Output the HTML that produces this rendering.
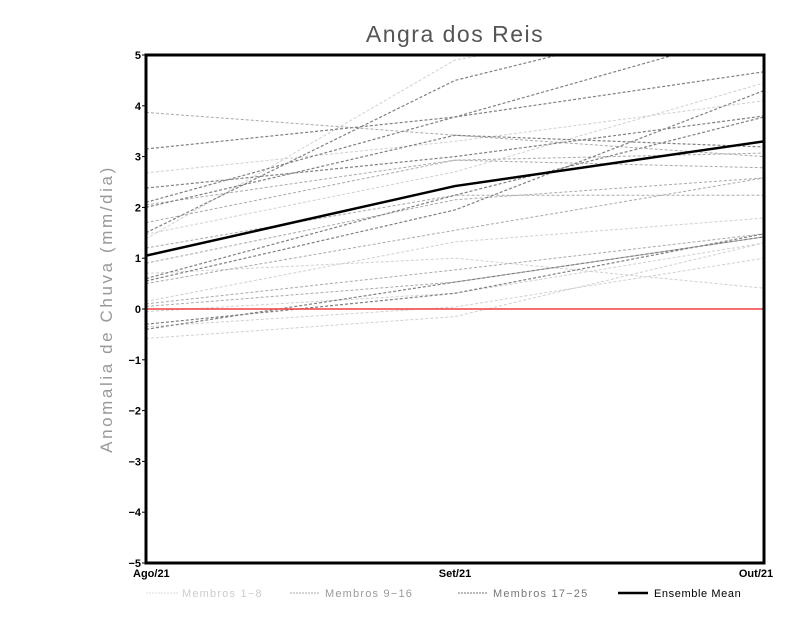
<!DOCTYPE html>
<html><head><meta charset="utf-8"><style>
body{margin:0;background:#fff;}
svg{display:block;font-family:"Liberation Sans",sans-serif;}
</style></head><body>
<svg id="chart" width="800" height="618">
<text x="455" y="42" text-anchor="middle" font-size="23" letter-spacing="1.5" fill="#555">Angra dos Reis</text>
<text transform="translate(112,309) rotate(-90)" text-anchor="middle" font-size="17" letter-spacing="2.6" fill="#999">Anomalia de Chuva (mm/dia)</text>
<g id="plot"></g>
<g id="legend">
<line x1="146" y1="593" x2="178" y2="593" stroke="#ddd" stroke-dasharray="2,1"/>
<text x="182" y="597" font-size="11" letter-spacing="1.2" fill="#ccc">Membros 1−8</text>
<line x1="290" y1="593" x2="320" y2="593" stroke="#aaa" stroke-dasharray="2,1"/>
<text x="325" y="597" font-size="11" letter-spacing="1.2" fill="#999">Membros 9−16</text>
<line x1="458" y1="593" x2="488" y2="593" stroke="#777" stroke-dasharray="2,1"/>
<text x="493" y="597" font-size="11" letter-spacing="1.2" fill="#777">Membros 17−25</text>
<line x1="618" y1="593" x2="648" y2="593" stroke="#000" stroke-width="2.5"/>
<text x="654" y="597" font-size="11" letter-spacing="0.6" fill="#000">Ensemble Mean</text>
</g>
</svg>
<script>
const categories=["Ago/21","Set/21","Out/21"];
const yTicks=[-5,-4,-3,-2,-1,0,1,2,3,4,5];
const groupA=[[2.68,3.3,4.1],[1.38,4.9,6],[0.7,1.0,0.41],[0.15,1.32,1.79],[-0.05,0.31,1.3],[-0.35,0.04,1.0],[-0.58,-0.15,1.3],[1.47,2.7,4.45]];
const groupB=[[3.87,3.42,3.0],[2.05,2.93,3.07],[1.7,2.93,2.78],[1.2,2.24,2.24],[0.9,2.15,2.58],[0.5,1.55,2.58],[0.1,0.77,1.48],[0.05,0.53,1.42]];
const groupC=[[3.15,3.78,4.67],[2.38,3.0,3.8],[2.1,3.78,5.5],[2.0,3.42,3.19],[1.5,4.5,6],[0.6,2.24,3.78],[0.55,1.95,4.3],[-0.3,0.31,1.48],[-0.4,0.53,1.42]];
const meanVals=[1.05,2.42,3.3];
const X0=146,X1=764,Y0=563,Y1=55;
const xs=i=>X0+(X1-X0)*i/(categories.length-1);
const ys=v=>Y0-(v+5)/10*(Y0-Y1);
const NS="http://www.w3.org/2000/svg";
const g=document.getElementById('plot');
const clip=document.createElementNS(NS,'clipPath');clip.id='c';
const cr=document.createElementNS(NS,'rect');
cr.setAttribute('x',X0);cr.setAttribute('y',Y1);cr.setAttribute('width',X1-X0);cr.setAttribute('height',Y0-Y1);
clip.appendChild(cr);g.appendChild(clip);
function line(vals,color,w,dash,name){
 const p=document.createElementNS(NS,'polyline');
 p.setAttribute('points',vals.map((v,i)=>xs(i)+','+ys(v)).join(' '));
 p.setAttribute('fill','none');p.setAttribute('stroke',color);p.setAttribute('stroke-width',w);
 if(dash)p.setAttribute('stroke-dasharray',dash);
 p.setAttribute('clip-path','url(#c)');
 
 
 g.appendChild(p);
}
groupA.forEach(v=>line(v,'#d0d0d0',1,'3,2','member-line-1-8'));
groupB.forEach(v=>line(v,'#aaaaaa',1,'3,2','member-line-9-16'));
groupC.forEach(v=>line(v,'#808080',1.2,'3,2','member-line-17-25'));
const z=document.createElementNS(NS,'line');
z.setAttribute('x1',X0);z.setAttribute('x2',X1);z.setAttribute('y1',ys(0));z.setAttribute('y2',ys(0));
z.setAttribute('stroke','#f04040');z.setAttribute('stroke-width',1.5);


g.appendChild(z);
line(meanVals,'#000',2.5,null,'ensemble-mean-line');
const fr=document.createElementNS(NS,'rect');
fr.setAttribute('x',X0);fr.setAttribute('y',Y1);fr.setAttribute('width',X1-X0);fr.setAttribute('height',Y0-Y1);
fr.setAttribute('fill','none');fr.setAttribute('stroke','#000');fr.setAttribute('stroke-width',3);


g.appendChild(fr);
yTicks.forEach(t=>{
 const tl=document.createElementNS(NS,'line');
 tl.setAttribute('x1',X0-4);tl.setAttribute('x2',X0);tl.setAttribute('y1',ys(t));tl.setAttribute('y2',ys(t));tl.setAttribute('stroke','#000');
 g.appendChild(tl);
 const tx=document.createElementNS(NS,'text');
 tx.setAttribute('x',X0-5);tx.setAttribute('y',ys(t)+4);tx.setAttribute('text-anchor','end');
 tx.setAttribute('font-size','11');tx.setAttribute('font-weight','bold');
 tx.textContent=t<0?'−'+(-t):String(t);
 
 
 g.appendChild(tx);
});
categories.forEach((c,i)=>{
 const tx=document.createElementNS(NS,'text');
 tx.setAttribute('x',i===0?X0-13:(i===categories.length-1?X1-8:xs(i)));
 tx.setAttribute('y',Y0+14);tx.setAttribute('text-anchor',i===0?'start':'middle');
 tx.setAttribute('font-size','11');tx.setAttribute('font-weight','bold');
 tx.textContent=c;
 
 
 g.appendChild(tx);
});
</script>
</body></html>
